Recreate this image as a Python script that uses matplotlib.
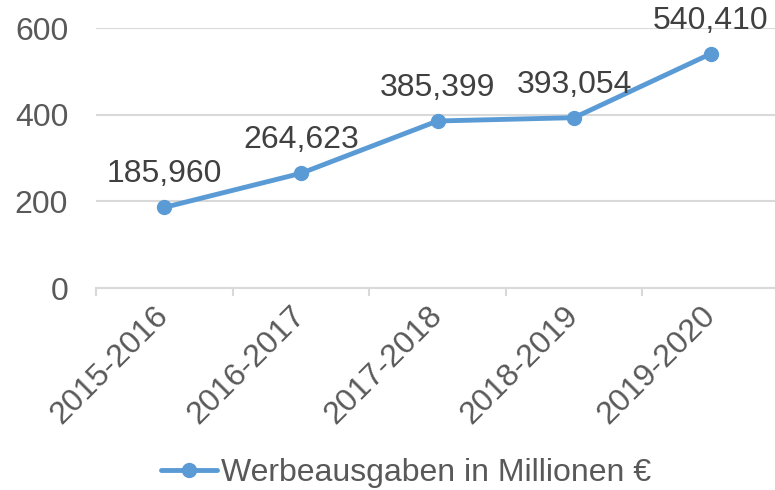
import matplotlib
matplotlib.use("Agg")
import matplotlib.pyplot as plt
from matplotlib.ticker import FixedLocator

categories = ["2015-2016", "2016-2017", "2017-2018", "2018-2019", "2019-2020"]
values = [185.960, 264.623, 385.399, 393.054, 540.410]
value_labels = ["185,960", "264,623", "385,399", "393,054", "540,410"]
series_name = "Werbeausgaben in Millionen €"
yticks = [0, 200, 400, 600]

plt.rcParams['font.family'] = ['Liberation Sans', 'DejaVu Sans']

W, H = 775, 490
FS = 23
fig = plt.figure(figsize=(W / 100, H / 100), dpi=100)
left, right, bottom, top = 96 / W, 779 / W, 1 - 288 / H, 1 - 28 / H
ax = fig.add_axes([left, bottom, right - left, top - bottom])

line_color = "#5B9BD5"
grid_color = "#D9D9D9"
tick_color = "#595959"
label_color = "#404040"

x = list(range(len(categories)))
ax.plot(x, values, color=line_color, lw=3.5, marker="o", ms=10,
        solid_capstyle="round", label=series_name, zorder=3, clip_on=False)

for xi, v, t in zip(x, values, value_labels):
    ax.annotate(t, (xi, v), xytext=(0, 18), textcoords="offset points",
                ha="center", va="baseline", fontsize=FS, color=label_color)

ax.set_xlim(-0.5, len(categories) - 0.5)
ax.set_ylim(0, 600)
ax.set_yticks(yticks)
ax.set_yticklabels([str(t) for t in yticks])
ax.yaxis.grid(True, color=grid_color, lw=1.5)
ax.set_axisbelow(True)

for s in ["left", "right", "top"]:
    ax.spines[s].set_visible(False)
ax.spines["bottom"].set_color(grid_color)
ax.spines["bottom"].set_linewidth(1.5)

ax.set_xticks(x)
ax.set_xticklabels(categories, rotation=45, ha="right", va="center",
                   rotation_mode="anchor")
ax.xaxis.set_minor_locator(FixedLocator([i - 0.5 for i in range(len(categories) + 1)]))
ax.tick_params(axis="x", which="major", length=0, pad=17, labelsize=FS,
               labelcolor=tick_color)
ax.tick_params(axis="x", which="minor", length=6, width=1.5, color=grid_color)
ax.tick_params(axis="y", length=0, pad=20, labelsize=FS, labelcolor=tick_color)

leg = fig.legend(loc="center", bbox_to_anchor=(0.524, 1 - 473 / H), frameon=False,
                 fontsize=FS, handlelength=1.75, handletextpad=0.12, borderpad=0)
for t in leg.get_texts():
    t.set_color(tick_color)

fig.savefig("out.png", dpi=100)
